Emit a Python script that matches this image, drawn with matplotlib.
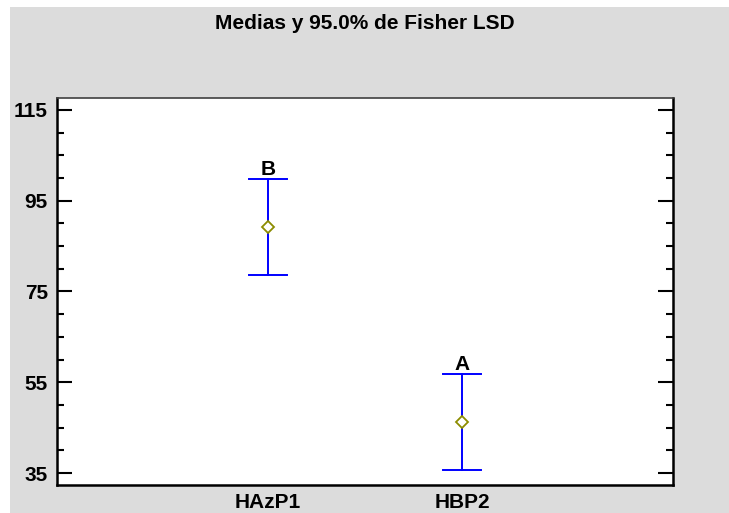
import matplotlib.pyplot as plt
from matplotlib.patches import Rectangle
from matplotlib.ticker import MultipleLocator

plt.rcParams['font.family'] = ['Liberation Sans', 'DejaVu Sans']

# Data
groups = ["HAzP1", "HBP2"]
means = [89.2, 46.2]
lower = [78.6, 35.7]
upper = [99.8, 56.8]
letters = ["B", "A"]

W, H = 729, 513
fig = plt.figure(figsize=(W / 100, H / 100), dpi=100)
fig.patch.set_facecolor("white")
fig.patches.append(Rectangle((10 / W, 0), 1, 1 - 7 / H, transform=fig.transFigure,
                             facecolor="#dcdcdc", edgecolor="none", zorder=-10))

ax = fig.add_axes([57 / W, 1 - 485 / H, (673 - 57) / W, (485 - 98) / H])
ax.set_facecolor("white")

pos = [1, 2]
for x, m, lo, hi, lab in zip(pos, means, lower, upper, letters):
    ax.plot([x, x], [lo, hi], color="#0000ff", lw=1.4)
    ax.plot([x - 0.1, x + 0.1], [hi, hi], color="#0000ff", lw=1.4)
    ax.plot([x - 0.1, x + 0.1], [lo, lo], color="#0000ff", lw=1.4)
    ax.plot(x, m, marker="D", ms=6, mfc="white", mec="#8c8c00", mew=1.3)
    ax.text(x, hi + 0.9, lab, ha="center", va="baseline", fontsize=15, fontweight="bold")

ax.set_xlim(1 - 1.088, 2 + 1.088)
ax.set_ylim(32.4, 117.6)
ax.set_xticks(pos)
ax.set_xticklabels(groups, fontsize=15, fontweight="bold")
ax.tick_params(axis="x", length=0, pad=6)
ax.set_yticks([35, 55, 75, 95, 115])
ax.yaxis.set_minor_locator(MultipleLocator(5))
for t in ax.get_yticklabels():
    t.set_fontsize(15)
    t.set_fontweight("bold")
ax.tick_params(axis="y", which="major", direction="in", length=11, width=1.5,
               left=True, right=True, pad=6.5)
ax.tick_params(axis="y", which="minor", direction="in", length=5, width=1.5,
               left=True, right=True)
for s in ax.spines.values():
    s.set_linewidth(1.8)
ax.spines["top"].set_linewidth(1.2)
ax.spines["top"].set_color("#404040")

fig.text(365 / W, 1 - 29 / H, "Medias y 95.0% de Fisher LSD", ha="center", va="baseline",
         fontsize=15, fontweight="bold")

fig.savefig("out.png", dpi=100, facecolor=fig.get_facecolor())
